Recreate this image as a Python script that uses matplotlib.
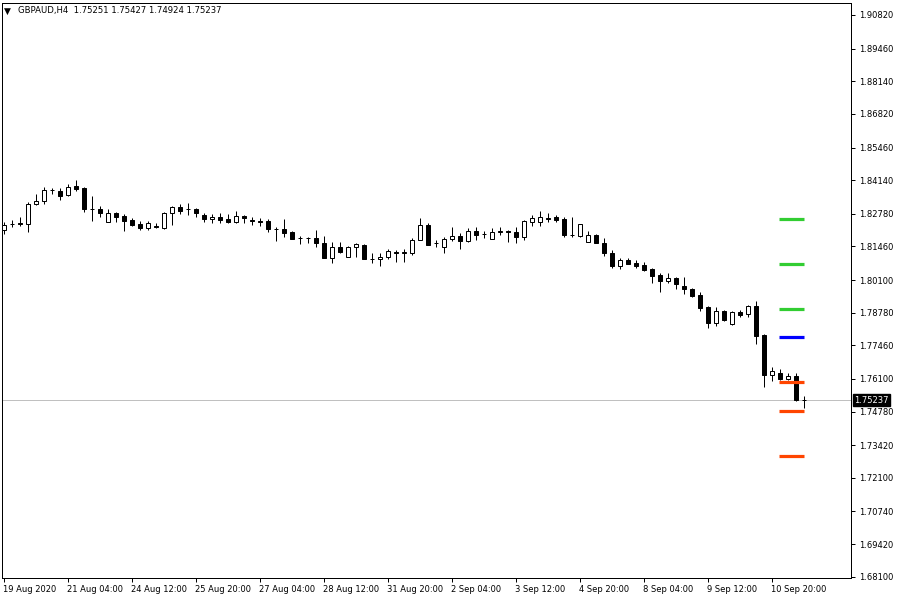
import matplotlib
matplotlib.use("Agg")
import matplotlib.pyplot as plt
import matplotlib.transforms as mtransforms
import numpy as np

# ---- data (GBPAUD H4) ----
opens = [1.82124, 1.82346, 1.82407, 1.82366, 1.83175, 1.83297, 1.83721, 1.83701, 1.83539, 1.83903,
         1.83822, 1.82973, 1.82973, 1.82447, 1.82811, 1.82690, 1.82528, 1.82366, 1.82205, 1.82265,
         1.82205, 1.82811, 1.83054, 1.82973, 1.82973, 1.82730, 1.82569, 1.82650, 1.82569, 1.82447,
         1.82690, 1.82508, 1.82467, 1.82488, 1.82164, 1.82164, 1.82043, 1.81800, 1.81800, 1.81800,
         1.81598, 1.80991, 1.81436, 1.81032, 1.81436, 1.81517, 1.80951, 1.80951, 1.81032, 1.81234,
         1.81213, 1.81193, 1.81719, 1.82326, 1.81598, 1.81436, 1.81760, 1.81881, 1.81679, 1.82083,
         1.81942, 1.81760, 1.82043, 1.82063, 1.82043, 1.81841, 1.82447, 1.82447, 1.82609, 1.82650,
         1.82569, 1.81921, 1.81881, 1.81638, 1.81921, 1.81598, 1.81193, 1.80668, 1.80910, 1.80789,
         1.80708, 1.80546, 1.80304, 1.80061, 1.80182, 1.79859, 1.79737, 1.79495, 1.79009, 1.78362,
         1.78848, 1.78322, 1.78807, 1.78726, 1.79050, 1.77877, 1.76258, 1.76339, 1.76097, 1.76218,
         1.75251]
highs = [1.82447, 1.82528, 1.82650, 1.83256, 1.83580, 1.83863, 1.83822, 1.83822, 1.83984, 1.84146,
         1.83863, 1.83499, 1.83094, 1.82973, 1.82832, 1.82771, 1.82609, 1.82488, 1.82488, 1.82407,
         1.82832, 1.83094, 1.83175, 1.83216, 1.83014, 1.82811, 1.82771, 1.82811, 1.82771, 1.82892,
         1.82730, 1.82650, 1.82609, 1.82569, 1.82245, 1.82569, 1.82063, 1.81881, 1.81841, 1.82124,
         1.81881, 1.81638, 1.81638, 1.81457, 1.81598, 1.81537, 1.81193, 1.81193, 1.81355, 1.81315,
         1.81355, 1.81800, 1.82609, 1.82407, 1.81719, 1.81841, 1.82245, 1.82002, 1.82205, 1.82245,
         1.82083, 1.82205, 1.82245, 1.82103, 1.82245, 1.82508, 1.82730, 1.82892, 1.82811, 1.82730,
         1.82650, 1.82650, 1.82386, 1.82083, 1.81962, 1.81800, 1.81315, 1.80991, 1.80991, 1.80910,
         1.80829, 1.80566, 1.80384, 1.80384, 1.80223, 1.80223, 1.79778, 1.79616, 1.79029, 1.79009,
         1.78868, 1.78828, 1.78888, 1.79070, 1.79252, 1.77897, 1.76582, 1.76501, 1.76339, 1.76339,
         1.75427]
lows = [1.81962, 1.82245, 1.82285, 1.82043, 1.83135, 1.83175, 1.83580, 1.83337, 1.83499, 1.83701,
        1.82852, 1.82488, 1.82650, 1.82427, 1.82447, 1.82083, 1.82285, 1.82124, 1.82124, 1.82185,
        1.82164, 1.82326, 1.82771, 1.82730, 1.82650, 1.82447, 1.82407, 1.82407, 1.82407, 1.82407,
        1.82407, 1.82326, 1.82285, 1.82043, 1.81679, 1.81841, 1.81740, 1.81557, 1.81598, 1.81436,
        1.80971, 1.80789, 1.81193, 1.81011, 1.81032, 1.80930, 1.80789, 1.80668, 1.80951, 1.80829,
        1.80829, 1.81112, 1.81699, 1.81497, 1.81436, 1.81193, 1.81679, 1.81355, 1.81638, 1.81719,
        1.81800, 1.81740, 1.81921, 1.81638, 1.81598, 1.81719, 1.82285, 1.82285, 1.82447, 1.82447,
        1.81841, 1.81841, 1.81841, 1.81618, 1.81578, 1.81072, 1.80587, 1.80546, 1.80728, 1.80587,
        1.80465, 1.79980, 1.79616, 1.79980, 1.79737, 1.79535, 1.79414, 1.78848, 1.78160, 1.78241,
        1.78443, 1.78281, 1.78605, 1.78605, 1.77513, 1.75773, 1.76016, 1.76056, 1.76056, 1.75207,
        1.74924]
closes = [1.82326, 1.82366, 1.82346, 1.83175, 1.83297, 1.83742, 1.83742, 1.83499, 1.83863, 1.83782,
          1.82973, 1.82953, 1.82811, 1.82811, 1.82650, 1.82488, 1.82326, 1.82205, 1.82407, 1.82225,
          1.82811, 1.83054, 1.82892, 1.82953, 1.82811, 1.82569, 1.82650, 1.82528, 1.82447, 1.82690,
          1.82609, 1.82488, 1.82427, 1.82164, 1.82144, 1.82002, 1.81760, 1.81780, 1.81780, 1.81598,
          1.80991, 1.81436, 1.81234, 1.81436, 1.81557, 1.80951, 1.80930, 1.81032, 1.81274, 1.81213,
          1.81234, 1.81719, 1.82326, 1.81517, 1.81578, 1.81760, 1.81881, 1.81679, 1.82083, 1.81921,
          1.81962, 1.82043, 1.82063, 1.82043, 1.81841, 1.82488, 1.82609, 1.82650, 1.82549, 1.82528,
          1.81921, 1.81901, 1.82366, 1.81921, 1.81598, 1.81193, 1.80668, 1.80910, 1.80748, 1.80668,
          1.80506, 1.80263, 1.80061, 1.80182, 1.79940, 1.79737, 1.79454, 1.78969, 1.78362, 1.78848,
          1.78483, 1.78807, 1.78686, 1.79050, 1.77836, 1.76258, 1.76420, 1.76097, 1.76218, 1.75247,
          1.75237]

pivot_levels = [1.82569, 1.80748, 1.78928, 1.77796, 1.75976, 1.74802, 1.72981]
pivot_colors = ["#32CD32", "#32CD32", "#32CD32", "#0000FF", "#FF4500", "#FF4500", "#FF4500"]

time_labels = ["19 Aug 2020", "21 Aug 04:00", "24 Aug 12:00", "25 Aug 20:00", "27 Aug 04:00",
               "28 Aug 12:00", "31 Aug 20:00", "2 Sep 04:00", "3 Sep 12:00", "4 Sep 20:00",
               "8 Sep 04:00", "9 Sep 12:00", "10 Sep 20:00"]
time_label_bars = [0, 8, 16, 24, 32, 40, 48, 56, 64, 72, 80, 88, 96]

price_ticks = [1.90820, 1.89460, 1.88140, 1.86820, 1.85460, 1.84140, 1.82780, 1.81460, 1.80100,
               1.78780, 1.77460, 1.76100, 1.74780, 1.73420, 1.72100, 1.70740, 1.69420, 1.68100]

symbol = "GBPAUD,H4"
last_price = closes[-1]

# ---- figure ----
W, H = 900, 600
fig = plt.figure(figsize=(9, 6), dpi=100)
fig.patch.set_facecolor("white")
ax = fig.add_axes([2 / W, 22 / H, 849 / W, 575 / H])
ax.set_facecolor("white")

x = np.arange(len(opens))
o = np.array(opens); c = np.array(closes); hi = np.array(highs); lo = np.array(lows)

px = 0.72  # one pixel in points
ax.vlines(x, lo, hi, color="black", lw=px, zorder=2)
bull = c >= o
bottoms = np.minimum(o, c)
heights = np.abs(c - o)
ax.bar(x[bull], heights[bull], bottom=bottoms[bull], width=0.6, color="white",
       edgecolor="black", linewidth=px, zorder=3)
ax.bar(x[~bull], heights[~bull], bottom=bottoms[~bull], width=0.6, color="black",
       edgecolor="black", linewidth=px, zorder=3)

# pivot levels
for lvl, col in zip(pivot_levels, pivot_colors):
    ax.hlines(lvl, 96.9, 100.0, color=col, lw=2.3, zorder=4)

# current price line
ax.axhline(last_price, color="#c0c0c0", lw=px, zorder=1)

ax.set_xlim(-0.25, 105.875)
ax.set_ylim(1.68047, 1.91305)

# axes styling
for s in ax.spines.values():
    s.set_color("black")
    s.set_linewidth(px)

ax.yaxis.tick_right()
ax.set_yticks(price_ticks)
ax.set_yticklabels([f"{v:.5f}" for v in price_ticks])
ax.tick_params(axis="y", direction="out", length=3, width=px, pad=3, labelsize=6,
               colors="black")
ax.set_xticks(time_label_bars)
ax.set_xticklabels(time_labels)
ax.tick_params(axis="x", direction="out", length=3, width=px, pad=2, labelsize=6,
               colors="black")
offset = mtransforms.ScaledTranslation(-1 / 100, 0, fig.dpi_scale_trans)
for lab in ax.get_xticklabels():
    lab.set_ha("left")
    lab.set_transform(lab.get_transform() + offset)

# current price tag
trans = mtransforms.blended_transform_factory(ax.transAxes, ax.transData)
ax.text(1.0035, last_price, f"{last_price:.5f}", transform=trans, ha="left", va="center",
        fontsize=6, color="white",
        bbox=dict(boxstyle="square,pad=0.15", facecolor="black", edgecolor="black"),
        zorder=10, clip_on=False)

# title
fig.text(4 / W, 1 - 11 / H, "▼", fontsize=6.5, ha="left", va="center", color="black")
fig.text(18 / W, 1 - 11 / H,
         f"{symbol}  {opens[-1]:.5f} {highs[-1]:.5f} {lows[-1]:.5f} {closes[-1]:.5f}",
         fontsize=6.1, ha="left", va="center", color="black")

fig.savefig("out.png", dpi=100)
